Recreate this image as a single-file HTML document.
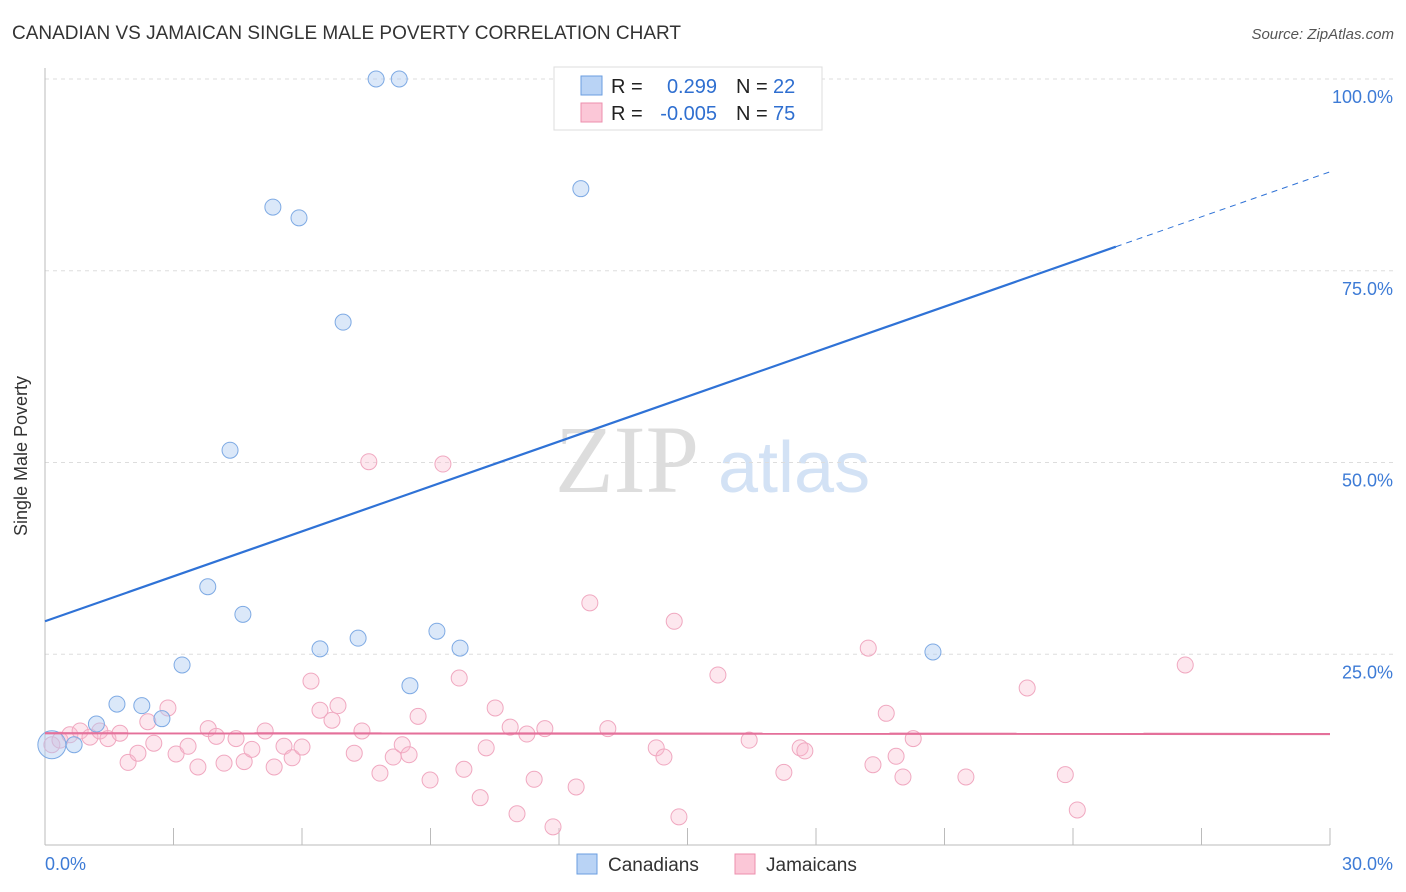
<!DOCTYPE html>
<html><head><meta charset="utf-8"><style>
body{margin:0;background:#fff;font-family:"Liberation Sans",sans-serif}
svg{display:block}
</style></head><body>
<svg id="c" width="1406" height="892">
<text x="12" y="39" font-size="19" fill="#333">CANADIAN VS JAMAICAN SINGLE MALE POVERTY CORRELATION CHART</text>
<text x="1394" y="39" font-size="15" fill="#555" font-style="italic" text-anchor="end">Source: ZipAtlas.com</text>
<text x="27" y="456" font-size="18" fill="#333" transform="rotate(-90 27 456)" text-anchor="middle">Single Male Poverty</text>
<text x="555" y="492" font-size="96" fill="#ddd" font-family="Liberation Serif">ZIP</text>
<text x="718" y="492" font-size="72" fill="#d3e2f5">atlas</text>
<g id="grid"></g><g id="pts"></g><g id="lines"></g>
<g>
<rect x="554" y="67" width="268" height="63" fill="#fff" stroke="#ddd"/>
<rect x="581" y="76" width="21" height="19" fill="#b9d3f5" stroke="#6a9ee0"/>
<rect x="581" y="103" width="21" height="19" fill="#fbc7d7" stroke="#ec8fae"/>
<text x="611" y="93" font-size="20" fill="#222">R =</text><text x="717" y="93" font-size="20" fill="#2f6fd0" text-anchor="end">0.299</text>
<text x="736" y="93" font-size="20" fill="#222">N =</text><text x="773" y="93" font-size="20" fill="#2f6fd0">22</text>
<text x="611" y="120" font-size="20" fill="#222">R =</text><text x="717" y="120" font-size="20" fill="#2f6fd0" text-anchor="end">-0.005</text>
<text x="736" y="120" font-size="20" fill="#222">N =</text><text x="773" y="120" font-size="20" fill="#2f6fd0">75</text>
</g>
<g>
<rect x="577" y="854" width="20" height="20" fill="#b9d3f5" stroke="#6a9ee0"/>
<text x="608" y="871" font-size="19" fill="#333">Canadians</text>
<rect x="735" y="854" width="20" height="20" fill="#fbc7d7" stroke="#ec8fae"/>
<text x="766" y="871" font-size="19" fill="#333">Jamaicans</text>
</g>
</svg>
<script>
const yTicks=[25,50,75,100];
const yTickLabels=["25.0%","50.0%","75.0%","100.0%"];
const canX=[0.16,0.68,1.2,1.68,2.26,2.73,3.2,3.8,4.32,4.62,5.32,5.93,6.42,6.96,7.31,7.73,8.27,8.52,9.15,9.69,12.51,20.73];
const canY=[13.2,13.2,15.9,18.5,18.3,16.6,23.6,33.8,51.6,30.2,83.3,81.9,25.7,68.3,27.1,100,100,20.9,28.0,25.8,85.7,25.3];
const jamX=[0.16,0.35,0.58,0.82,1.05,1.28,1.47,1.75,1.94,2.17,2.40,2.54,2.87,3.06,3.34,3.57,3.81,4.0,4.18,4.46,4.65,4.83,5.14,5.35,5.58,5.77,6.0,6.21,6.42,6.70,6.84,7.22,7.40,7.56,7.82,8.13,8.34,8.50,8.71,8.99,9.29,9.67,9.78,10.16,10.51,10.30,10.86,11.02,11.25,11.42,11.67,11.86,12.40,12.72,13.14,14.27,14.45,14.69,14.80,15.71,16.44,17.25,17.63,17.74,19.22,19.33,19.64,19.87,20.03,20.27,21.50,22.93,23.82,24.10,26.62];
const jamY=[13.2,13.8,14.5,15.0,14.2,15.0,14.0,14.7,10.9,12.1,16.2,13.4,18.0,12.0,13.0,10.3,15.3,14.3,10.8,14.0,11.0,12.6,15.0,10.3,13.0,11.5,12.9,21.5,17.7,16.4,18.3,12.1,15.0,50.1,9.5,11.6,13.2,11.9,16.9,8.6,49.8,21.9,10.0,6.3,18.0,12.8,15.5,4.2,14.6,8.7,15.3,2.5,7.7,31.7,15.3,12.8,11.6,29.3,3.8,22.3,13.8,9.6,12.8,12.4,25.8,10.6,17.3,11.7,9.0,14.0,9.0,20.6,9.3,4.7,23.6];
const canTrend=[29.3,87.9], jamTrend=[14.7,14.6];
const NS="http://www.w3.org/2000/svg";
const X=v=>45+v*1285/30, Y=v=>846-v*7.67;
function mk(t,a,p){const e=document.createElementNS(NS,t);for(const k in a)e.setAttribute(k,a[k]);document.getElementById(p).appendChild(e);return e;}
yTicks.forEach((t,i)=>{
 const g=mk('line',{x1:45,x2:1393,y1:Y(t),y2:Y(t),stroke:'#ddd','stroke-dasharray':'4,4'},'grid');
 
 
 const l=mk('text',{x:1393,y:Y(t)+24,'font-size':18,fill:'#3d7bd6','text-anchor':'end'},'grid');l.textContent=yTickLabels[i];
 
 
});
const ax=mk('line',{x1:45,x2:45,y1:68,y2:845,stroke:'#bbb'},'grid');


const bx=mk('line',{x1:45,x2:1330,y1:845,y2:845,stroke:'#bbb'},'grid');


for(let i=0;i<=10;i++){const t=mk('line',{x1:X(i*3),x2:X(i*3),y1:828,y2:845,stroke:'#bbb'},'grid');
 
 }
[[0,"0.0%","start",45],[30,"30.0%","end",1393]].forEach(d=>{const t=mk('text',{x:d[3],y:870,'font-size':18,fill:'#3d7bd6','text-anchor':d[2]},'grid');t.textContent=d[1];
 
 });
jamX.forEach((x,i)=>{const c=mk('circle',{cx:X(x),cy:Y(jamY[i]),r:8,fill:'rgba(248,185,206,0.35)',stroke:'#f0a8c0','stroke-width':1},'pts');
 
 });
canX.forEach((x,i)=>{const c=mk('circle',{cx:X(x),cy:Y(canY[i]),r:i==0?14:8,fill:'rgba(175,203,242,0.45)',stroke:'#7eaae4','stroke-width':1},'pts');
 
 });
const yAt=(tr,x)=>tr[0]+(tr[1]-tr[0])*x/30;
const l1=mk('line',{x1:X(0),y1:Y(canTrend[0]),x2:X(25),y2:Y(yAt(canTrend,25)),stroke:'#2f72d6','stroke-width':2.2},'lines');


const l2=mk('line',{x1:X(25),y1:Y(yAt(canTrend,25)),x2:X(30),y2:Y(canTrend[1]),stroke:'#2f72d6','stroke-width':1,'stroke-dasharray':'6,5'},'lines');


const l3=mk('line',{x1:X(0),y1:Y(jamTrend[0]),x2:X(30),y2:Y(jamTrend[1]),stroke:'#e4709a','stroke-width':2.2},'lines');


</script>
</body></html>
